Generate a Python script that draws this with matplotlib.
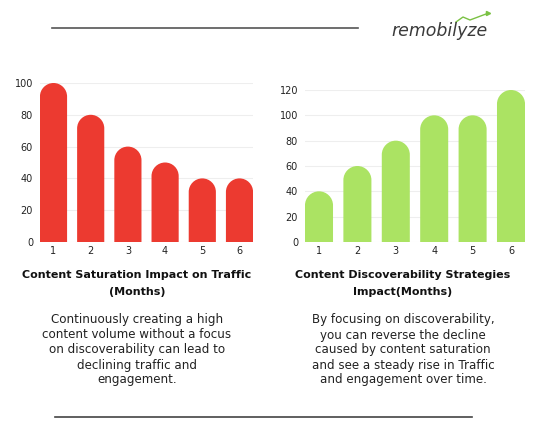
import matplotlib
matplotlib.use("Agg")
import matplotlib.pyplot as plt
from matplotlib.path import Path
from matplotlib.patches import PathPatch

months = [1, 2, 3, 4, 5, 6]
saturation = [100, 80, 60, 50, 40, 40]
discoverability = [40, 60, 80, 100, 100, 120]
tick_labels = ["1", "2", "3", "4", "5", "6"]

title_left = ["Content Saturation Impact on Traffic", "(Months)"]
title_right = ["Content Discoverability Strategies", "Impact(Months)"]
body_left = ["Continuously creating a high", "content volume without a focus",
             "on discoverability can lead to", "declining traffic and", "engagement."]
body_right = ["By focusing on discoverability,", "you can reverse the decline",
              "caused by content saturation", "and see a steady rise in Traffic",
              "and engagement over time."]

W, H = 536, 441
fig = plt.figure(figsize=(W / 100, H / 100), dpi=100)
fig.patch.set_facecolor("white")


def px_axes(x0, x1, ytop, ybot):
    return fig.add_axes([x0 / W, 1 - ybot / H, (x1 - x0) / W, (ybot - ytop) / H])


def rounded_bars(ax, xs, hs, width, color):
    ax.figure.canvas.draw()
    p0 = ax.transData.transform((0, 0))
    p1 = ax.transData.transform((1, 1))
    sx = p1[0] - p0[0]
    sy = p1[1] - p0[1]
    rx = width / 2
    ry = rx * sx / sy
    k = 0.5523
    for x, h in zip(xs, hs):
        x0, x1 = x - rx, x + rx
        b = h - ry
        verts = [(x0, 0), (x0, b),
                 (x0, b + k * ry), (x - k * rx, h), (x, h),
                 (x + k * rx, h), (x1, b + k * ry), (x1, b),
                 (x1, 0), (x0, 0)]
        codes = [Path.MOVETO, Path.LINETO,
                 Path.CURVE4, Path.CURVE4, Path.CURVE4,
                 Path.CURVE4, Path.CURVE4, Path.CURVE4,
                 Path.LINETO, Path.CLOSEPOLY]
        ax.add_patch(PathPatch(Path(verts, codes), facecolor=color,
                               edgecolor="none", zorder=3))


def style(ax, ymax, step, xlim):
    ax.set_xlim(*xlim)
    ax.set_ylim(0, ymax)
    ax.set_yticks(range(0, ymax + 1, step))
    ax.set_xticks(months)
    ax.set_xticklabels(tick_labels)
    for s in ax.spines.values():
        s.set_visible(False)
    ax.grid(axis="y", color="#eeeeee", linewidth=0.8, zorder=0)
    ax.tick_params(length=0, labelsize=7, labelcolor="#222222")
    ax.tick_params(axis="y", pad=5)
    ax.tick_params(axis="x", pad=3)
    ax.set_axisbelow(True)


w = 0.73
axL = px_axes(40, 253, 83, 242)
style(axL, 100, 20, (1 - 13.5 / 37.2, 6 + 13.5 / 37.2))
rounded_bars(axL, months, saturation, w, "#ec3a30")

axR = px_axes(305, 525, 90, 242)
style(axR, 120, 20, (1 - 14 / 38.4, 6 + 14 / 38.4))
rounded_bars(axR, months, discoverability, w, "#abe363")


def ftext(x, y, s, **kw):
    fig.text(x / W, 1 - y / H, s, ha="center", va="center", **kw)


for i, line in enumerate(title_left):
    ftext(137, 275 + 17 * i, line, fontsize=8.0, fontweight="bold", color="#111111")
for i, line in enumerate(title_right):
    ftext(403, 275 + 17 * i, line, fontsize=8.0, fontweight="bold", color="#111111")
for i, line in enumerate(body_left):
    ftext(137, 320 + 15 * i, line, fontsize=8.6, color="#222222")
for i, line in enumerate(body_right):
    ftext(403, 320 + 15 * i, line, fontsize=8.6, color="#222222")

# decorative lines
fig.add_artist(plt.Line2D([52 / W, 358 / W], [1 - 28 / H, 1 - 28 / H], color="#555555", linewidth=1.2))
fig.add_artist(plt.Line2D([55 / W, 472 / W], [1 - 417 / H, 1 - 417 / H], color="#444444", linewidth=1.2))

# logo
ftext(440, 31, "remobilyze", fontsize=12.5, color="#3a3a3a", style="italic",
      family="DejaVu Sans")
fig.add_artist(plt.Line2D([456 / W, 463 / W, 470 / W, 486 / W],
                          [1 - 22 / H, 1 - 17 / H, 1 - 20 / H, 1 - 14 / H],
                          color="#7ac143", linewidth=1))
fig.add_artist(plt.Line2D([488 / W], [1 - 13 / H], marker=">", markersize=3,
                          color="#7ac143"))

fig.savefig("out.png", dpi=100)
